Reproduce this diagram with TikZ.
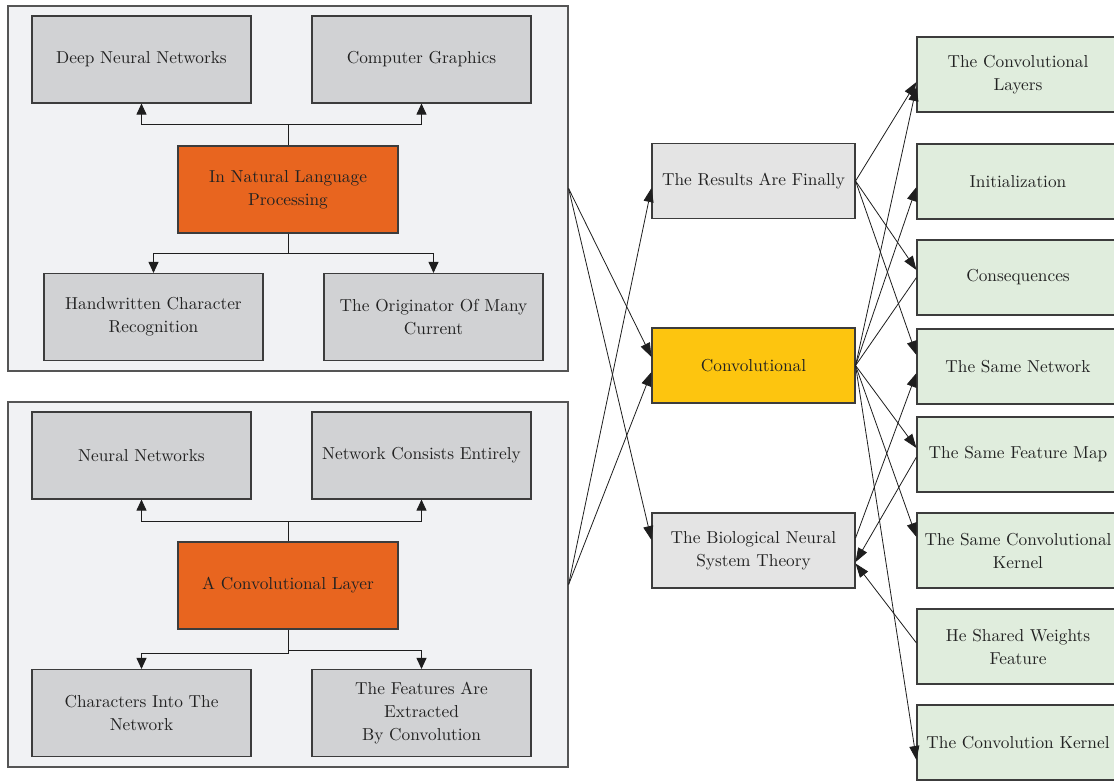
\documentclass[tikz,border=0pt]{standalone}
\usepackage{fontspec}
\setmainfont{lmroman10-regular.otf}
\usetikzlibrary{arrows.meta}
\definecolor{textc}{HTML}{222222}
\definecolor{clfill}{HTML}{F1F2F4}
\definecolor{clborder}{HTML}{555555}
\definecolor{bordc}{HTML}{3C3C3C}
\definecolor{grayc}{HTML}{D1D2D4}
\definecolor{orangec}{HTML}{E8651F}
\definecolor{midc}{HTML}{E4E4E4}
\definecolor{yellowc}{HTML}{FDC50F}
\definecolor{greenc}{HTML}{E0EDDD}
\definecolor{linec}{HTML}{1E1E1E}
\begin{document}
\begin{tikzpicture}[x=1pt,y=-1pt,
  txt/.style={font=\fontsize{17.3}{23}\selectfont, text=textc, align=center, inner sep=0pt},
  cluster/.style={draw=clborder, fill=clfill, line width=1.2pt, minimum width=560pt, minimum height=365pt, inner sep=0pt},
  gbox/.style={txt, draw=bordc, fill=grayc, line width=1.1pt, minimum width=219pt, minimum height=87pt},
  obox/.style={gbox, fill=orangec, minimum width=220pt},
  mbox/.style={txt, draw=bordc, fill=midc, line width=1.1pt, minimum width=203pt, minimum height=75pt},
  ybox/.style={mbox, fill=yellowc},
  rbox/.style={mbox, fill=greenc, minimum width=202pt, text width=200pt},
  arr/.style={-{Triangle[length=11pt,width=10pt]}, line width=0.9pt, draw=linec},
  link/.style={-{Triangle[length=14pt,width=10pt]}, line width=0.8pt, draw=linec},
  plainlink/.style={line width=0.8pt, draw=linec}]
\useasboundingbox (0,0) rectangle (1114,780);
\clip (0,0) rectangle (1114,780);
\fill[white] (0,0) rectangle (1114,780);

% clusters
\node[cluster] (cl1) at (288,188.5) {};
\node[cluster] (cl2) at (288,584.5) {};

% top cluster
\node[gbox] (dnn) at (141.5,59.5) {Deep Neural Networks};
\node[gbox] (cg) at (421.5,59.5) {Computer Graphics};
\node[obox] (nlp) at (288,189.5) {In Natural Language\\Processing};
\node[gbox] (hw) at (153.5,317) {Handwritten Character\\Recognition};
\node[gbox] (orig) at (433.5,317) {The Originator Of Many\\Current};

% bottom cluster
\node[gbox] (nn) at (141.5,455.5) {Neural Networks};
\node[gbox] (nce) at (421.5,455.5) {Network Consists Entirely};
\node[obox] (acl) at (288,585.5) {A Convolutional Layer};
\node[gbox] (cin) at (141.5,713) {Characters Into The\\Network};
\node[gbox] (feat) at (421.5,713) {The Features Are\\Extracted\\By Convolution};

% middle
\node[mbox] (res) at (753.5,181) {The Results Are Finally};
\node[ybox] (conv) at (753.5,365.5) {Convolutional};
\node[mbox] (bio) at (753.5,550.5) {The Biological Neural\\System Theory};

% right
\node[rbox] (r1) at (1018,74.5) {The Convolutional\\Layers};
\node[rbox] (r2) at (1018,181.5) {Initialization};
\node[rbox] (r3) at (1018,277.5) {Consequences};
\node[rbox] (r4) at (1018,366.5) {The Same Network};
\node[rbox] (r5) at (1018,454.5) {The Same Feature Map};
\node[rbox] (r6) at (1018,550.5) {The Same Convolutional\\Kernel};
\node[rbox] (r7) at (1018,646.5) {He Shared Weights\\Feature};
\node[rbox] (r8) at (1018,742.5) {The Convolution Kernel};

% cluster internal connectors
\coordinate (j1) at (288,124);
\coordinate (j2) at (288,253);
\coordinate (j3) at (288,521);
\coordinate (j4) at (288,653);
\coordinate (j5) at (288,650);
\draw[arr] (nlp.north) -- (j1) -| (dnn.south);
\draw[arr] (j1) -| (cg.south);
\draw[arr] (nlp.south) -- (j2) -| (hw.north);
\draw[arr] (j2) -| (orig.north);
\draw[arr] (acl.north) -- (j3) -| (nn.south);
\draw[arr] (j3) -| (nce.south);
\draw[arr] (acl.south) -- (j4) -| (cin.north);
\draw[arr] (j5) -| (feat.north);

% clusters to middle
\draw[link] (cl1.east) -- ([yshift=8.5pt]conv.west);
\draw[link] (cl1.east) -- ([yshift=10.5pt]bio.west);
\draw[link] (cl2.east) -- ([yshift=-7pt]res.west);
\draw[link] (cl2.east) -- ([yshift=-6.5pt]conv.west);

% middle to right
\draw[link] (res.east) -- ([yshift=-7.5pt]r1.west);
\draw[link] (res.east) -- ([yshift=7.5pt]r3.west);
\draw[link] (res.east) -- ([yshift=11.5pt]r4.west);
\draw[link] (conv.east) -- ([yshift=-12.5pt]r1.west);
\draw[link] (conv.east) -- ([yshift=-5.5pt]r2.west);
\draw[plainlink] (conv.east) -- (r3.west);
\draw[link] (conv.east) -- ([yshift=6.5pt]r5.west);
\draw[link] (conv.east) -- ([yshift=13.5pt]r6.west);
\draw[link] (conv.east) -- ([yshift=-17.5pt]r8.west);
\draw[link] ([yshift=12.5pt]bio.east) -- ([yshift=-6.5pt]r4.west);
\draw[link] ([yshift=-2.5pt]r5.west) -- ([yshift=-11.5pt]bio.east);
\draw[link] ([yshift=3.5pt]r7.west) -- ([yshift=-13pt]bio.east);
\end{tikzpicture}
\end{document}
